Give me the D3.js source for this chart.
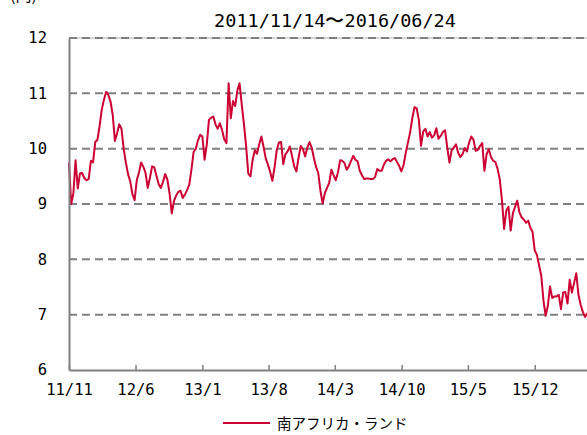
<!DOCTYPE html>
<html>
<head>
<meta charset="utf-8">
<script src="https://cdn.jsdelivr.net/npm/d3@7/dist/d3.min.js"></script>
<style>
  html, body { margin: 0; padding: 0; background: #fff; }
  svg { display: block; }
</style>
</head>
<body>
<svg id="chart" width="587" height="435"></svg>
<script>
// ---- data ----
const titleText = "2011/11/14〜2016/06/24";
const unitLabel = "(円)";
const seriesName = "南アフリカ・ランド";
const startDate = "2011-11-14";
const endDate = "2016-06-24";
// weekly closing values (ZAR/JPY)
const values = [
  9.75, 9.00, 9.19, 9.79, 9.28, 9.55, 9.56, 9.47, 9.43, 9.45,
  9.78, 9.75, 10.12, 10.16, 10.41, 10.71, 10.89, 11.03, 10.97, 10.85,
  10.61, 10.14, 10.28, 10.44, 10.36, 10.00, 9.75, 9.54, 9.41, 9.18,
  9.07, 9.43, 9.57, 9.75, 9.67, 9.56, 9.29, 9.47, 9.68, 9.66,
  9.51, 9.36, 9.29, 9.40, 9.54, 9.44, 9.19, 8.83, 9.05, 9.15,
  9.22, 9.24, 9.11, 9.17, 9.25, 9.35, 9.62, 9.94, 10.00, 10.15,
  10.25, 10.22, 9.80, 10.07, 10.52, 10.56, 10.58, 10.44, 10.36, 10.46,
  10.34, 10.17, 10.10, 11.18, 10.55, 10.86, 10.77, 11.05, 11.18, 10.80,
  10.45, 10.05, 9.55, 9.50, 9.80, 9.97, 9.91, 10.08, 10.22, 10.03,
  9.82, 9.71, 9.58, 9.42, 9.66, 9.97, 10.11, 10.12, 9.72, 9.90,
  9.95, 10.04, 9.87, 9.68, 9.59, 9.84, 10.05, 9.99, 9.86, 10.02,
  10.12, 10.02, 9.83, 9.67, 9.56, 9.24, 9.01, 9.19, 9.29, 9.38,
  9.62, 9.52, 9.43, 9.57, 9.79, 9.78, 9.74, 9.62, 9.68, 9.78,
  9.87, 9.80, 9.77, 9.60, 9.52, 9.45, 9.46, 9.46, 9.45, 9.45,
  9.49, 9.63, 9.60, 9.60, 9.71, 9.78, 9.81, 9.77, 9.81, 9.83,
  9.76, 9.69, 9.59, 9.70, 9.92, 10.11, 10.29, 10.55, 10.75, 10.73,
  10.52, 10.05, 10.31, 10.36, 10.22, 10.30, 10.20, 10.24, 10.37, 10.18,
  10.23, 10.30, 10.33, 10.02, 9.75, 9.97, 10.02, 10.08, 9.92, 9.85,
  9.90, 10.01, 9.95, 10.11, 10.22, 10.16, 9.96, 9.98, 10.05, 10.10,
  9.60, 9.90, 9.99, 9.85, 9.78, 9.76, 9.64, 9.45, 9.08, 8.55,
  8.88, 8.95, 8.52, 8.83, 8.95, 9.06, 8.85, 8.76, 8.72, 8.66,
  8.70, 8.57, 8.50, 8.16, 8.08, 7.89, 7.70, 7.26, 6.98, 7.16,
  7.51, 7.30, 7.33, 7.33, 7.36, 7.10, 7.40, 7.41, 7.20, 7.63,
  7.40, 7.57, 7.75, 7.36, 7.18, 7.05, 6.96, 7.02, 7.00, 7.04, 7.08
];
const yTicks = [6, 7, 8, 9, 10, 11, 12];
const xTickDates = ["2011-11-14", "2012-06-14", "2013-01-14", "2013-08-14",
                    "2014-03-14", "2014-10-14", "2015-05-14", "2015-12-14"];
const xTickLabels = ["11/11", "12/6", "13/1", "13/8", "14/3", "14/10", "15/5", "15/12"];

// ---- chart ----
const parse = d3.timeParse("%Y-%m-%d");
const t0 = parse(startDate);
const series = values.map((v, i) => ({ date: d3.timeDay.offset(t0, 7 * i), value: v }));

const svg = d3.select("#chart");
const M = { left: 69, right: 595, top: 38, bottom: 370 };

const x = d3.scaleTime().domain([t0, parse(endDate)]).range([M.left, M.right]);
const y = d3.scaleLinear().domain([6, 12]).range([M.bottom, M.top]);

const gridColor = "#808080";
const monoFont = "'DejaVu Sans Mono', 'Liberation Mono', monospace";

// top border (light solid)
svg.append("line")
  .attr("x1", M.left).attr("x2", M.right)
  .attr("y1", y(12)).attr("y2", y(12))
  .attr("stroke", "#b0b0b0").attr("stroke-width", 1);

// dashed gridlines
svg.append("g").selectAll("line")
  .data(yTicks.filter(d => d > 6))
  .join("line")
  .attr("x1", M.left).attr("x2", M.right)
  .attr("y1", d => y(d)).attr("y2", d => y(d))
  .attr("stroke", gridColor)
  .attr("stroke-width", 2)
  .attr("stroke-dasharray", "8,5");

// line
const line = d3.line().x(d => x(d.date)).y(d => y(d.value));
svg.append("path")
  .datum(series)
  .attr("d", line)
  .attr("fill", "none")
  .attr("stroke", "#cc0033")
  .attr("stroke-width", 2)
  .attr("stroke-linejoin", "round");

// y axis
const yAxis = d3.axisLeft(y).tickValues(yTicks).tickFormat(d3.format("d")).tickSize(0).tickPadding(22);
const gy = svg.append("g").attr("transform", `translate(${M.left},0)`).call(yAxis);
gy.select(".domain").attr("stroke", gridColor).attr("stroke-width", 2);
gy.selectAll("text").attr("font-family", monoFont).attr("font-size", 15.5).attr("fill", "#000");

// x axis
const tickDates = xTickDates.map(parse);
const labelFor = new Map(tickDates.map((d, i) => [+d, xTickLabels[i]]));
const xAxis = d3.axisBottom(x).tickValues(tickDates).tickFormat(d => labelFor.get(+d))
  .tickSizeInner(-5).tickSizeOuter(0).tickPadding(14);
const gx = svg.append("g").attr("transform", `translate(0,${M.bottom})`).call(xAxis);
gx.select(".domain").attr("stroke", gridColor).attr("stroke-width", 2);
gx.selectAll(".tick line").attr("stroke", gridColor).attr("stroke-width", 1.5);
gx.selectAll("text").attr("font-family", monoFont).attr("font-size", 15.5).attr("fill", "#000");

// title
svg.append("text")
  .attr("x", 335).attr("y", 27)
  .attr("text-anchor", "middle")
  .attr("font-family", monoFont)
  .attr("font-size", 18.5)
  .attr("fill", "#000")
  .text(titleText);

// unit label (cut off at top)
svg.append("text")
  .attr("x", 10).attr("y", 1)
  .attr("font-family", "'Noto Sans CJK JP', sans-serif")
  .attr("font-size", 16)
  .attr("fill", "#000")
  .text(unitLabel);

// legend
const lg = svg.append("g");
lg.append("line")
  .attr("x1", 223).attr("x2", 270).attr("y1", 423).attr("y2", 423)
  .attr("stroke", "#cc0033").attr("stroke-width", 2);
lg.append("text")
  .attr("x", 277).attr("y", 429)
  .attr("font-family", "'Noto Sans CJK JP', sans-serif")
  .attr("font-size", 14.5)
  .attr("fill", "#000")
  .text(seriesName);
</script>
</body>
</html>
